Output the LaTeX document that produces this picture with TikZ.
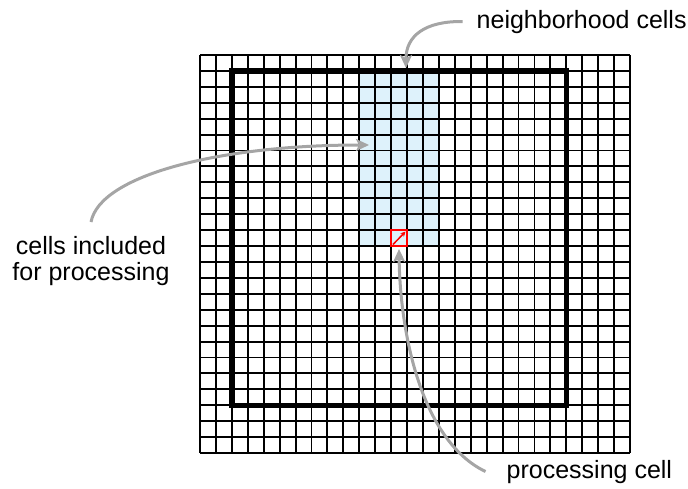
\documentclass[tikz,border=0pt]{standalone}
\usepackage{fontspec}
\setmainfont{Liberation Sans}
\usetikzlibrary{arrows.meta}
\definecolor{arrowgray}{RGB}{165,165,165}
\definecolor{nbblue}{RGB}{222,242,251}
\tikzset{
  gridline/.style={line width=1.9pt, black},
  outerline/.style={line width=5.4pt, black, line join=miter},
  callout/.style={line width=3pt, arrowgray, -{Stealth[length=13pt,width=12pt,inset=3pt]}},
  label/.style={inner sep=0pt, font=\fontsize{25}{26}\selectfont},
  cellmark/.style={line width=1.5pt, red},
}
\begin{document}
\begin{tikzpicture}[x=1pt,y=-1pt]
\useasboundingbox (0,0) rectangle (688,488);
% neighbourhood fill
\fill[nbblue] (359.26,70.92) rectangle (438.89,246.04);
% grid
\foreach \i in {0,...,27}
  \draw[gridline] (200+\i*15.926,55) -- (200+\i*15.926,453);
\foreach \j in {0,...,25}
  \draw[gridline] (200,55+\j*15.92) -- (630,55+\j*15.92);
% processing area border
\draw[outerline] (231.85,70.92) rectangle (566.3,405.24);
% processing cell
\draw[cellmark] (391.11,230.12) rectangle (407.04,246.04);
\coordinate (pcsw) at (393,244.5);
\coordinate (pcne) at (405.5,231.6);
\draw[cellmark, -{Stealth[length=5pt,width=5pt]}] (pcsw) -- (pcne);
% labels
\node[label, anchor=base west] (nb) at (476.5,28) {neighborhood cells};
\node[label, anchor=north, align=center] (ci) at (91,236) {cells included\\for processing};
\node[label, anchor=base west] (pc) at (506.5,478) {processing cell};
% targets
\coordinate (nbtip) at (406,68);
\coordinate (citip) at (369,145);
\coordinate (pctip) at (399,249);
% callouts
\draw[callout] ([xshift=-14pt]nb.west) .. controls (425,21) and (406,36) .. (nbtip);
\draw[callout] ([yshift=14pt]ci.north) .. controls (100,175) and (220,145) .. (citip);
\draw[callout] ([xshift=-21pt]pc.west) .. controls (420,440) and (400,330) .. (pctip);
\end{tikzpicture}
\end{document}
